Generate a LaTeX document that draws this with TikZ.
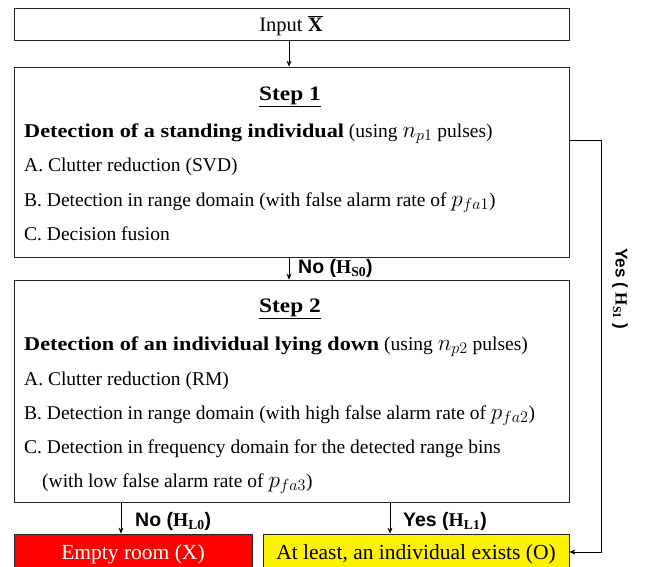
\documentclass[tikz,border=0pt]{standalone}
\usepackage{fontspec}
\setmainfont{Liberation Serif}
\setsansfont{Liberation Sans}
\usetikzlibrary{arrows.meta}
\newcommand{\wb}[1]{\scalebox{1.14}[1]{\bfseries #1}}
\newcommand{\hh}[1]{{\rmfamily\bfseries H\textsubscript{#1}}}
\newcommand{\mm}[1]{\scalebox{1.12}{$#1$}}
\begin{document}
\begin{tikzpicture}[x=1pt,y=-1pt,
  box/.style={draw=black!85, line width=0.8pt, inner sep=0pt},
  txt/.style={anchor=base west, inner sep=0pt, font=\fontsize{19.5}{22}\selectfont},
  ttl/.style={anchor=base, inner sep=0pt, font=\fontsize{20.5}{24}\selectfont},
  lab/.style={anchor=base west, inner sep=0pt, font=\fontsize{19.5}{22}\sffamily\bfseries},
  res/.style={anchor=base, inner sep=0pt, font=\fontsize{21.5}{24}\selectfont},
  arr/.style={-{Stealth[length=6pt,width=5pt]}, line width=0.7pt}]
\useasboundingbox (0,0) rectangle (646,566);
\clip (0,0) rectangle (646,566);
\fill[white] (0,0) rectangle (646,566);
% boxes
\node[box, minimum width=555pt, minimum height=32pt] (input) at (291.5,24) {};
\node[anchor=base, inner sep=0pt, font=\fontsize{20.5}{22}\selectfont] (inputt) at (291,31) {Input $\overline{\mathbf{X}}$};
\node[box, minimum width=555pt, minimum height=190pt] (step1) at (291.5,162) {};
\node[box, minimum width=555pt, minimum height=222pt] (step2) at (291.5,391) {};
\node[box, fill=red, minimum width=238pt, minimum height=36pt] (empty) at (133,552) {};
\node[box, fill=yellow, minimum width=306pt, minimum height=36pt] (atleast) at (416,552) {};
% step 1 text
\node[ttl] (s1t) at (290,100) {\wb{\underline{Step 1}}};
\node[txt] (s1a) at (24,137) {\wb{Detection of a standing individual} (using \mm{n_{p1}} pulses)};
\node[txt] (s1b) at (24,171) {A. Clutter reduction (SVD)};
\node[txt] (s1c) at (24,206) {B. Detection in range domain (with false alarm rate of \mm{p_{fa1}})};
\node[txt] (s1d) at (24,240) {C. Decision fusion};
% step 2 text
\node[ttl] (s2t) at (290,312) {\wb{\underline{Step 2}}};
\node[txt] (s2a) at (24,350) {\wb{Detection of an individual lying down} (using \mm{n_{p2}} pulses)};
\node[txt] (s2b) at (24,385) {A. Clutter reduction (RM)};
\node[txt] (s2c) at (24,419) {B. Detection in range domain (with high false alarm rate of \mm{p_{fa2}})};
\node[txt] (s2d) at (24,453) {C. Detection in frequency domain for the detected range bins};
\node[txt] (s2e) at (42,487) {(with low false alarm rate of \mm{p_{fa3}})};
% result texts
\node[res, text=white] (emptyt) at (133,559) {Empty room (X)};
\node[res] (atleastt) at (416,559) {At least, an individual exists (O)};
% connectors
\coordinate (xm) at (289,0);
\coordinate (xl) at (121,0);
\coordinate (xr) at (390,0);
\coordinate (yy) at (0,140);
\draw[arr] (input.south -| xm) -- (step1.north -| xm);
\draw[arr] (step1.south -| xm) -- (step2.north -| xm);
\draw[arr] (step2.south -| xl) -- (empty.north -| xl);
\draw[arr] (step2.south -| xr) -- (atleast.north -| xr);
\draw[arr] (step1.east |- yy) -- ++(32,0) |- (atleast.east);
% labels
\node[lab] (l1) at (298,273) {No (\hh{S0})};
\node[lab] (l2) at (135,526) {No (\hh{L0})};
\node[lab] (l3) at (403,526) {Yes (\hh{L1})};
\node[inner sep=0pt, rotate=-90, font=\fontsize{17}{20}\sffamily\bfseries] (l4) at (620,289) {Yes ( \hh{S1} )};
\end{tikzpicture}
\end{document}
